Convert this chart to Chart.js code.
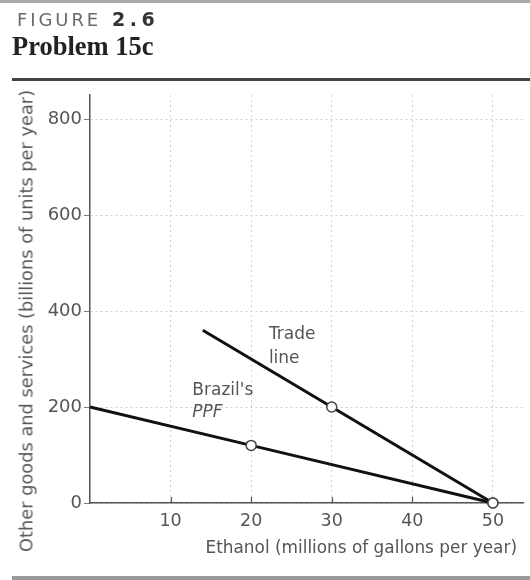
<!DOCTYPE html>
<html>
<head>
<meta charset="utf-8">
<script src="https://cdn.jsdelivr.net/npm/chart.js@4/dist/chart.umd.min.js"></script>
<style>
  html, body { margin:0; padding:0; background:#fff; width:530px; height:580px; overflow:hidden; }
  #wrap { position:relative; width:530px; height:580px; }
  canvas { position:absolute; left:0; top:0; }
  .topbar { position:absolute; left:0; top:0; width:530px; height:3px; background:#a8a8a8; }
  .rule { position:absolute; left:12px; top:78px; width:518px; height:3px; background:#444; }
  .botbar { position:absolute; left:12px; top:576px; width:518px; height:4px; background:#9a9a9a; }
  .fig { position:absolute; left:17px; top:8px; font-family:"DejaVu Sans", sans-serif; font-size:18px; color:#6a6a6a; letter-spacing:2.9px; white-space:nowrap; }
  .fig b { color:#333; font-weight:bold; letter-spacing:4.5px; margin-left:11px; font-size:19px; }
  .prob { position:absolute; left:12px; top:31px; font-family:"Liberation Serif", serif; font-weight:bold; font-size:26.5px; color:#222; white-space:nowrap; }
  .ytitle { position:absolute; left:26px; top:321px; transform:translate(-50%,-50%) rotate(-90deg); font-family:"DejaVu Sans", sans-serif; font-size:17.8px; color:#555; white-space:nowrap; }
  .xtitle { position:absolute; right:13px; top:537px; font-family:"DejaVu Sans", sans-serif; font-size:16.9px; color:#555; white-space:nowrap; }
</style>
</head>
<body>
<div id="wrap">
  <canvas id="c" width="530" height="580"></canvas>
  <div class="topbar"></div>
  <div class="fig">FIGURE<b>2.6</b></div>
  <div class="prob">Problem 15c</div>
  <div class="rule"></div>
  <div class="ytitle">Other goods and services (billions of units per year)</div>
  <div class="xtitle">Ethanol (millions of gallons per year)</div>
  <div class="botbar"></div>
</div>
<script>
// ---- data ----
const xTicks = [10, 20, 30, 40, 50];
const yTicks = [0, 200, 400, 600, 800];
const ppfX = [0, 20, 50];
const ppfY = [200, 120, 0];
const ppfMarkers = [0, 5, 5];
const tradeX = [14, 30, 50];
const tradeY = [360, 200, 0];
const tradeMarkers = [0, 5, 5];
const labelTexts = ["Trade", "line", "Brazil's", "PPF"];
const labelX = [22.2, 22.2, 12.7, 12.7];
const labelY = [350, 300, 235, 188];
const labelItalic = [false, false, false, true];

const toPts = (xs, ys) => xs.map((x, i) => ({ x: x, y: ys[i] }));

const annot = {
  id: 'annot',
  afterDatasetsDraw(chart) {
    const ctx = chart.ctx, xs = chart.scales.x, ys = chart.scales.y;
    ctx.save();
    // inward ticks on x axis
    ctx.strokeStyle = '#555'; ctx.lineWidth = 1.2;
    xTicks.forEach(v => {
      if (v >= 50) return;
      const px = Math.round(xs.getPixelForValue(v)) + 0.5;
      ctx.beginPath(); ctx.moveTo(px, ys.bottom); ctx.lineTo(px, ys.bottom - 6); ctx.stroke();
    });
    ctx.fillStyle = '#555';
    ctx.textAlign = 'left'; ctx.textBaseline = 'middle';
    labelTexts.forEach((t, i) => {
      ctx.font = (labelItalic[i] ? 'italic ' : '') + '17px "DejaVu Sans", sans-serif';
      ctx.fillText(t, xs.getPixelForValue(labelX[i]), ys.getPixelForValue(labelY[i]));
    });
    ctx.restore();
  }
};

new Chart(document.getElementById('c'), {
  type: 'scatter',
  data: {
    datasets: [
      {
        label: "Brazil's PPF",
        data: toPts(ppfX, ppfY),
        showLine: true,
        borderColor: '#111',
        borderWidth: 3,
        pointRadius: ppfMarkers,
        pointBackgroundColor: '#fff',
        pointBorderColor: '#444',
        pointBorderWidth: 1.5,
        clip: false
      },
      {
        label: 'Trade line',
        data: toPts(tradeX, tradeY),
        showLine: true,
        borderColor: '#111',
        borderWidth: 3,
        pointRadius: tradeMarkers,
        pointBackgroundColor: '#fff',
        pointBorderColor: '#444',
        pointBorderWidth: 1.5,
        clip: false
      }
    ]
  },
  options: {
    responsive: false,
    animation: false,
    devicePixelRatio: 1,
    layout: { padding: { top: 95, right: 0, left: 0, bottom: 0 } },
    plugins: { legend: { display: false }, tooltip: { enabled: false }, title: { display: false } },
    scales: {
      x: {
        type: 'linear',
        min: 0, max: 53.8,
        afterFit(s) { s.height = 77; },
        afterBuildTicks(s) { s.ticks = xTicks.map(v => ({ value: v })); },
        border: { display: true, color: '#555', width: 1.5, dash: [2, 3] },
        grid: { color: '#d0d0d0', drawTicks: false, lineWidth: 1 },
        ticks: { color: '#555', font: { family: 'DejaVu Sans', size: 17.5 }, padding: 8, maxRotation: 0 }
      },
      y: {
        type: 'linear',
        min: 0, max: 850,
        afterFit(s) { s.width = 90; },
        afterBuildTicks(s) { s.ticks = yTicks.map(v => ({ value: v })); },
        border: { display: true, color: '#555', width: 1.5, dash: [2, 3] },
        grid: { color: '#d0d0d0', tickLength: 6, tickColor: '#777', lineWidth: 1 },
        ticks: { color: '#555', font: { family: 'DejaVu Sans', size: 18 }, padding: 2 }
      }
    }
  },
  plugins: [annot]
});
</script>
</body>
</html>
